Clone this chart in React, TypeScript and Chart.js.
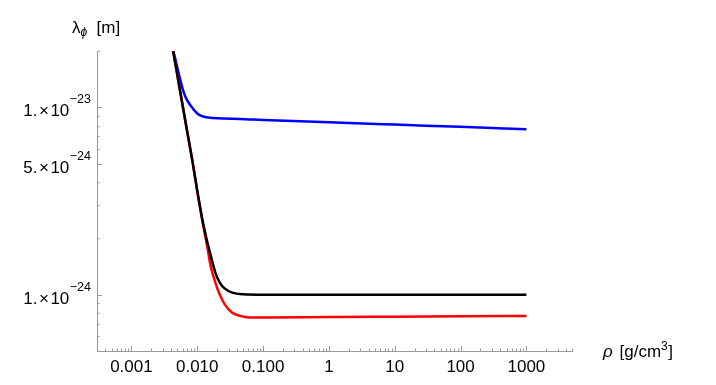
import React, { useEffect, useRef } from "react";
import { Chart, registerables } from "chart.js";

Chart.register(...registerables);

// ---- data (rho in g/cm^3, lambda in m) ----
const blackRho = [0.0043, 0.0055, 0.007, 0.0085, 0.01, 0.012, 0.014, 0.016, 0.019, 0.022, 0.026, 0.034, 0.05, 0.1, 1, 10, 100, 1000];
const blackLambda = [2.0e-23, 1.22e-23, 7.5e-24, 5.1e-24, 3.6e-24, 2.5e-24, 1.95e-24, 1.62e-24, 1.3e-24, 1.16e-24, 1.08e-24, 1.025e-24, 1.005e-24, 1.0e-24, 1.0e-24, 1.0e-24, 1.0e-24, 1.0e-24];

const redRho = [0.0043, 0.0055, 0.007, 0.0085, 0.01, 0.012, 0.014, 0.016, 0.019, 0.022, 0.026, 0.034, 0.045, 0.06, 0.1, 1, 10, 100, 1000];
const redLambda = [2.0e-23, 1.22e-23, 7.5e-24, 5.1e-24, 3.55e-24, 2.45e-24, 1.85e-24, 1.42e-24, 1.15e-24, 1.0e-24, 8.9e-25, 8.0e-25, 7.7e-25, 7.56e-25, 7.56e-25, 7.6e-25, 7.63e-25, 7.66e-25, 7.69e-25];

const blueRho = [0.0043, 0.0046, 0.005, 0.0055, 0.006, 0.0066, 0.0072, 0.008, 0.009, 0.01, 0.0115, 0.0138, 0.017, 0.025, 0.044, 0.1, 1, 10, 100, 1000];
const blueLambda = [2.0e-23, 1.84e-23, 1.62e-23, 1.41e-23, 1.255e-23, 1.14e-23, 1.075e-23, 1.02e-23, 9.65e-24, 9.28e-24, 9.0e-24, 8.85e-24, 8.78e-24, 8.72e-24, 8.68e-24, 8.57e-24, 8.32e-24, 8.09e-24, 7.87e-24, 7.65e-24];

const xTickValues = [0.001, 0.01, 0.1, 1, 10, 100, 1000];
const xTickLabels = ["0.001", "0.010", "0.100", "1", "10", "100", "1000"];

const yTickValues = [1e-23, 5e-24, 1e-24];
const yTickMantissas = ["1.", "5.", "1."];
const yTickExponents = ["\u221223", "\u221224", "\u221224"];

const X_MIN = 3e-4;
const X_MAX = 5100;
const Y_MIN = 5e-25;
const Y_MAX = 2e-23;

const FONT = "'Liberation Sans', Arial, Helvetica, sans-serif";
const AXIS_COLOR = "#9a9a9a";

const toPoints = (xs: number[], ys: number[]) => xs.map((x, i) => ({ x, y: ys[i] }));

const axesPlugin = {
  id: "mmaAxes",
  beforeDatasetsDraw(chart: any) {
    const { ctx, chartArea, scales } = chart;
    const xs = scales.x;
    const ys = scales.y;
    const { left, right, top, bottom } = chartArea;
    ctx.save();
    ctx.strokeStyle = AXIS_COLOR;
    ctx.lineWidth = 1;
    // axis lines
    ctx.beginPath();
    ctx.moveTo(left, bottom + 0.5);
    ctx.lineTo(right, bottom + 0.5);
    ctx.moveTo(left + 0.5, top);
    ctx.lineTo(left + 0.5, bottom);
    ctx.stroke();

    // x ticks
    ctx.beginPath();
    for (let d = -4; d <= 3; d++) {
      for (let m = 1; m <= 9; m++) {
        const v = m * Math.pow(10, d);
        if (v < X_MIN || v > X_MAX) continue;
        const px = Math.round(xs.getPixelForValue(v)) + 0.5;
        const len = m === 1 ? 5 : 2.5;
        ctx.moveTo(px, bottom);
        ctx.lineTo(px, bottom - len);
      }
    }
    // y ticks
    for (let d = -25; d <= -23; d++) {
      for (let m = 1; m <= 9; m++) {
        const v = m * Math.pow(10, d);
        if (v < Y_MIN * 0.999 || v > Y_MAX * 1.001) continue;
        const py = Math.round(ys.getPixelForValue(v)) + 0.5;
        const len = m === 1 || m === 5 ? 5 : 2.5;
        ctx.moveTo(left, py);
        ctx.lineTo(left + len, py);
      }
    }
    ctx.stroke();

    // x tick labels
    ctx.fillStyle = "#000";
    ctx.font = `17px ${FONT}`;
    ctx.textAlign = "center";
    ctx.textBaseline = "alphabetic";
    xTickValues.forEach((v, i) => {
      const px = xs.getPixelForValue(v);
      ctx.fillText(xTickLabels[i], px, bottom + 21);
    });

    // y tick labels with superscript exponent
    yTickValues.forEach((v, i) => {
      const py = ys.getPixelForValue(v);
      const xEnd = left - 6;
      ctx.font = `12.5px ${FONT}`;
      ctx.textAlign = "left";
      const expW = ctx.measureText(yTickExponents[i]).width;
      const expX = xEnd - expW;
      ctx.fillText(yTickExponents[i], expX, py - 4);
      ctx.font = `17px ${FONT}`;
      const tenW = ctx.measureText("10").width;
      const tenX = expX - 0.5 - tenW;
      ctx.fillText("10", tenX, py + 9);
      const timesW = ctx.measureText("\u00d7").width;
      const timesX = tenX - 1.5 - timesW;
      ctx.fillText("\u00d7", timesX, py + 9);
      const manW = ctx.measureText(yTickMantissas[i]).width;
      ctx.fillText(yTickMantissas[i], timesX - 1.5 - manW, py + 9);
    });

    // y axis title: lambda_phi [m]
    ctx.textAlign = "left";
    ctx.font = `17px ${FONT}`;
    ctx.fillText("\u03bb", 72, 33);
    const lw = ctx.measureText("\u03bb").width;
    ctx.font = `italic 12px ${FONT}`;
    ctx.fillText("\u03d5", 72 + lw, 36);
    ctx.font = `17px ${FONT}`;
    ctx.fillText("[m]", 96.5, 33);

    // x axis title: rho [g/cm^3]
    ctx.font = `italic 17px ${FONT}`;
    ctx.fillText("\u03c1", 603, 357);
    ctx.font = `17px ${FONT}`;
    const t1 = "[g/cm";
    ctx.fillText(t1, 619.5, 357);
    const t1w = ctx.measureText(t1).width;
    ctx.font = `12px ${FONT}`;
    ctx.fillText("3", 619.5 + t1w, 350);
    const w3 = ctx.measureText("3").width;
    ctx.font = `17px ${FONT}`;
    ctx.fillText("]", 619.5 + t1w + w3 + 0.5, 357);
    ctx.restore();
  },
};

export default function App() {
  const ref = useRef<HTMLCanvasElement>(null);
  useEffect(() => {
    if (!ref.current) return;
    const common = {
      fill: false,
      pointRadius: 0,
      borderWidth: 2.5,
      cubicInterpolationMode: "monotone" as const,
    };
    const chart = new Chart(ref.current, {
      type: "line",
      data: {
        datasets: [
          { ...common, label: "black", data: toPoints(blackRho, blackLambda), borderColor: "#000000", order: 1 },
          { ...common, label: "red", data: toPoints(redRho, redLambda), borderColor: "#ff0000", order: 2 },
          { ...common, label: "blue", data: toPoints(blueRho, blueLambda), borderColor: "#0000ff", order: 3 },
        ],
      },
      options: {
        responsive: false,
        animation: false,
        devicePixelRatio: 1,
        layout: { padding: { left: 97, right: 143, top: 51, bottom: 34 } },
        plugins: { legend: { display: false }, tooltip: { enabled: false } },
        scales: {
          x: { type: "logarithmic", min: X_MIN, max: X_MAX, display: false },
          y: { type: "logarithmic", min: Y_MIN, max: Y_MAX, display: false },
        },
      },
      plugins: [axesPlugin],
    } as any);
    return () => chart.destroy();
  }, []);
  return (
    <div style={{ position: "absolute", left: 0, top: 0, width: 716, height: 385, background: "#fff" }}>
      <canvas ref={ref} width={716} height={385} style={{ display: "block" }} />
    </div>
  );
}
